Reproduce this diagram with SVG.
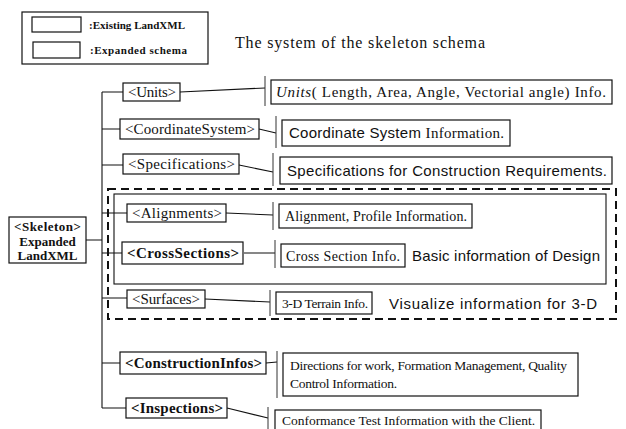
<svg xmlns="http://www.w3.org/2000/svg" width="626" height="429" viewBox="0 0 626 429">
  <style>
    .box { fill: #fff; stroke: #111; stroke-width: 1.2; }
    .ln { fill: none; stroke: #111; stroke-width: 1.1; }
    .tick { stroke: #333; stroke-width: 1; }
    .serif { font-family: "Liberation Serif", "Times New Roman", serif; fill: #111; }
    .sans { font-family: "Liberation Sans", Arial, sans-serif; fill: #111; }
    .node { font-size: 15px; }
    .bold { font-weight: bold; }
    .info { font-size: 13.5px; }
  </style>
  <rect width="626" height="429" fill="#fff"/>

  <!-- legend -->
  <g id="legend">
    <rect class="box" x="22" y="12" width="186" height="52"/>
    <rect class="box" x="32" y="17" width="49" height="15"/>
    <rect class="box" x="33" y="42" width="47" height="16"/>
    <text class="serif bold" x="89" y="29" font-size="11" textLength="96">:Existing LandXML</text>
    <text class="serif bold" x="90" y="54" font-size="11" textLength="97">:Expanded schema</text>
  </g>

  <text id="title" class="serif" x="235" y="48" font-size="16" textLength="250">The system of the skeleton schema</text>

  <!-- design group frames -->
  <g id="design-frame">
    <rect x="108" y="189" width="508" height="130" fill="none" stroke="#111" stroke-width="2" stroke-dasharray="8,5"/>
    <rect x="114" y="194" width="492" height="90" fill="none" stroke="#111" stroke-width="1.1"/>
  </g>

  <!-- connectors -->
  <g id="connectors">
    <!-- trunk -->
    <path class="ln" d="M86,240 H102 M102,92 V408 M102,92 H123 M102,129 H120 M102,165 H123 M102,213 H127 M102,253 H122 M102,298 H127 M102,363 H120 M102,408 H126"/>
    <!-- node to info -->
    <path class="ln" d="M180,92 L265,88 M259,129 L276,133 M239,165 L273,172 M226,213 L273,215 M244,253 L275,253 M205,299 L270,302 M266,363 L277,362 M227,408 L268,418"/>
    <!-- ticks before info boxes -->
    <path class="tick" d="M265,76 V106 M276,116 V148 M273,153 V186 M273,202 V230 M275,240 V268 M270,290 V316 M277,351 V398 M268,407 V429"/>
  </g>

  <g id="skeleton">
    <rect class="box" x="9" y="217" width="77" height="46"/>
    <text class="serif bold" x="47.5" y="231" font-size="13" text-anchor="middle" textLength="67">&lt;Skeleton&gt;</text>
    <text class="serif bold" x="47.5" y="245.5" font-size="13" text-anchor="middle">Expanded</text>
    <text class="serif bold" x="47.5" y="259.5" font-size="13" text-anchor="middle">LandXML</text>
  </g>

  <g id="units">
    <rect class="box" x="123" y="83" width="57" height="18"/>
    <text class="serif node" x="128" y="97" textLength="48">&lt;Units&gt;</text>
  </g>
  <g id="units-info">
    <rect class="box" x="271" y="80" width="341" height="24"/>
    <text class="serif" x="276" y="97" font-size="15" textLength="330"><tspan font-style="italic">Units</tspan>( Length, Area, Angle, Vectorial angle) Info.</text>
  </g>

  <g id="coordinate-system">
    <rect class="box" x="120" y="119" width="139" height="20"/>
    <text class="serif node" x="125" y="134" textLength="130">&lt;CoordinateSystem&gt;</text>
  </g>
  <g id="coordinate-info">
    <rect class="box" x="282" y="120" width="228" height="26"/>
    <text x="289" y="138" font-size="15" textLength="215"><tspan class="sans">Coordinate System </tspan><tspan class="serif">Information.</tspan></text>
  </g>

  <g id="specifications">
    <rect class="box" x="123" y="154" width="116" height="20"/>
    <text class="serif node" x="128" y="169" textLength="107">&lt;Specifications&gt;</text>
  </g>
  <g id="specifications-info">
    <rect class="box" x="280" y="157" width="332" height="27"/>
    <text class="sans" x="287" y="176" font-size="15" textLength="320">Specifications for Construction Requirements.</text>
  </g>

  <g id="alignments">
    <rect class="box" x="127" y="204" width="99" height="18"/>
    <text class="serif node" x="132" y="218" textLength="90">&lt;Alignments&gt;</text>
  </g>
  <g id="alignments-info">
    <rect class="box" x="279" y="204" width="193" height="24"/>
    <text class="serif" x="285" y="221" font-size="14" textLength="182">Alignment, Profile Information.</text>
  </g>

  <g id="cross-sections">
    <rect class="box" x="122" y="242" width="121" height="22"/>
    <text class="serif node bold" x="127" y="258" textLength="112">&lt;CrossSections&gt;</text>
  </g>
  <g id="cross-sections-info">
    <rect class="box" x="281" y="244" width="124" height="23"/>
    <text class="serif" x="286" y="261" font-size="14" textLength="114">Cross Section Info.</text>
  </g>
  <text class="sans" x="412" y="261" font-size="15" textLength="188">Basic information of Design</text>

  <g id="surfaces">
    <rect class="box" x="127" y="290" width="78" height="18"/>
    <text class="serif node" x="132" y="304" textLength="68">&lt;Surfaces&gt;</text>
  </g>
  <g id="surfaces-info">
    <rect class="box" x="276" y="292" width="96" height="22"/>
    <text class="serif info" x="282" y="308" textLength="86">3-D Terrain Info.</text>
  </g>
  <text class="sans" x="389" y="309" font-size="15" textLength="208">Visualize information for 3-D</text>

  <g id="construction-infos">
    <rect class="box" x="120" y="352" width="146" height="22"/>
    <text class="serif node bold" x="125" y="368" textLength="137">&lt;ConstructionInfos&gt;</text>
  </g>
  <g id="construction-infos-info">
    <rect class="box" x="283" y="353" width="295" height="43"/>
    <text class="serif info" x="290" y="370" textLength="277">Directions for work, Formation Management, Quality</text>
    <text class="serif info" x="290" y="388" textLength="107">Control Information.</text>
  </g>

  <g id="inspections">
    <rect class="box" x="126" y="398" width="101" height="20"/>
    <text class="serif node bold" x="131" y="413" textLength="92">&lt;Inspections&gt;</text>
  </g>
  <g id="inspections-info">
    <rect class="box" x="275" y="410" width="266" height="24"/>
    <text class="serif info" x="282" y="425" textLength="253">Conformance Test Information with the Client.</text>
  </g>
</svg>
